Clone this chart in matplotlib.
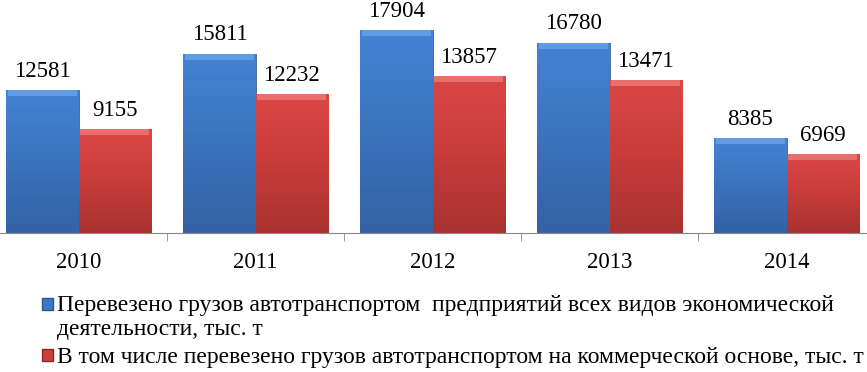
import numpy as np
import matplotlib.pyplot as plt
from matplotlib.colors import LinearSegmentedColormap
from matplotlib.patches import Rectangle
from matplotlib.legend_handler import HandlerPatch

plt.rcParams['font.family'] = ['Liberation Serif', 'DejaVu Serif']

years = ['2010', '2011', '2012', '2013', '2014']
total = [12581, 15811, 17904, 16780, 8385]
commercial = [9155, 12232, 13857, 13471, 6969]
labels = ['Перевезено грузов автотранспортом  предприятий всех видов экономической\nдеятельности, тыс. т',
          'В том числе перевезено грузов автотранспортом на коммерческой основе, тыс. т']

blue_cm = LinearSegmentedColormap.from_list('b', ['#3462a5', '#3b73bd', '#4383d4'])
red_cm = LinearSegmentedColormap.from_list('r', ['#a83230', '#c83c3a', '#da4745'])
blue_top = '#6aa5ea'
red_top = '#f07c7a'


def gradient_bars(ax, bars, cmap, top_color):
    for b in bars:
        x, y = b.get_x(), b.get_y()
        w, h = b.get_width(), b.get_height()
        grad = np.linspace(0, 1, 64).reshape(-1, 1)
        im = ax.imshow(grad, cmap=cmap, aspect='auto', origin='lower',
                       extent=(x, x + w, y, y + h), zorder=2)
        im.set_clip_path(b)
        # light bevel on top of the bar
        ax.add_patch(Rectangle((x + 0.01, y + h - 550), w - 0.02, 550, color=top_color,
                               alpha=0.75, zorder=3, lw=0))
        b.set_facecolor('none')


def square_at(shift):
    # legend marker, moved up so it sits on the first text line
    def make(legend, orig_handle, xdescent, ydescent, width, height, fontsize):
        return Rectangle((-xdescent, -ydescent + shift), width, height)
    return HandlerPatch(patch_func=make)


fig = plt.figure(figsize=(8.67, 3.72), dpi=100)
ax = fig.add_axes([-10 / 867, 139 / 372, 885 / 867, 227 / 372])

x = np.arange(len(years))
w = 0.407
b1 = ax.bar(x - w / 2, total, w, color='#3d78c6', zorder=2, edgecolor='#2d558c', lw=0.6)
b2 = ax.bar(x + w / 2, commercial, w, color='#cc3d3b', zorder=2, edgecolor='#8a2a28', lw=0.6)
gradient_bars(ax, b1, blue_cm, blue_top)
gradient_bars(ax, b2, red_cm, red_top)

for bars, vals in ((b1, total), (b2, commercial)):
    for b, v in zip(bars, vals):
        ax.annotate(str(v), (b.get_x() + b.get_width() / 2, v), xytext=(0, 9.4),
                    textcoords='offset points', ha='center', va='baseline',
                    fontsize=16.5, annotation_clip=False)

ax.set_xlim(-0.5, 4.5)
ax.set_ylim(0, 20000)
for s in ['top', 'right', 'left']:
    ax.spines[s].set_visible(False)
ax.spines['bottom'].set_color('#888888')
ax.set_yticks([])
ax.set_xticks(x)
ax.set_xticklabels(years, fontsize=16.5)
ax.tick_params(axis='x', which='major', length=0, pad=14)
ax.set_xticks(np.arange(-0.5, 5, 1), minor=True)
ax.tick_params(axis='x', which='minor', length=6, color='#888888')

h1 = Rectangle((0, 0), 1, 1, facecolor='#3d78c6', edgecolor='#2d558c')
h2 = Rectangle((0, 0), 1, 1, facecolor='#cc3d3b', edgecolor='#8a2a28')
leg = fig.legend([h1, h2], labels, loc='upper left', bbox_to_anchor=(42 / 867, 1 - 295 / 372),
                 frameon=False, fontsize=17, handlelength=0.45, handleheight=0.45,
                 handletextpad=0.2, labelspacing=0.3, borderpad=0, borderaxespad=0,
                 handler_map={h1: square_at(9.5), h2: square_at(0)})
for t in leg.get_texts():
    t.set_linespacing(1.2)

fig.savefig('out.png', dpi=100)
